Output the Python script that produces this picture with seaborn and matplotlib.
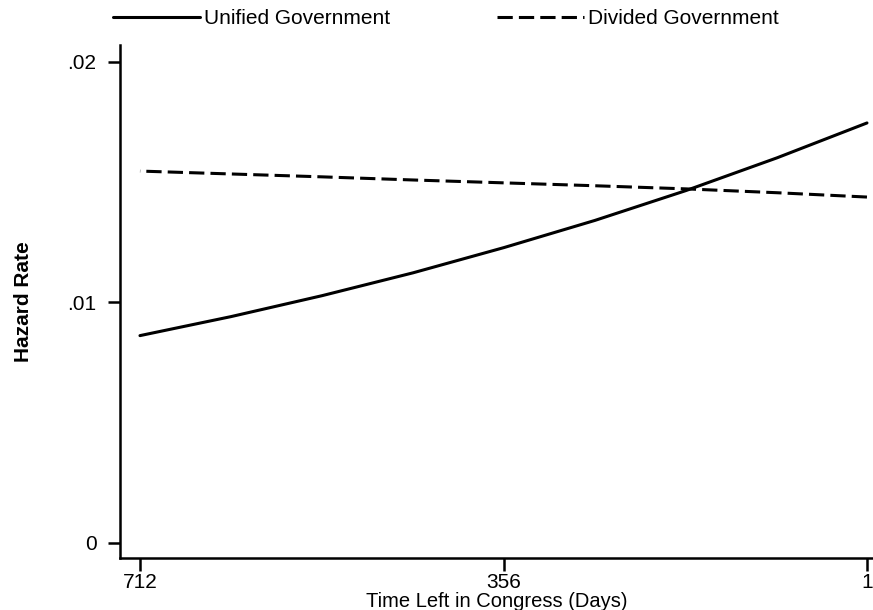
import pandas as pd
import matplotlib
matplotlib.use("Agg")
import matplotlib.pyplot as plt
import seaborn as sns
from matplotlib.ticker import FixedLocator, FixedFormatter

# Waarden
days = [712, 623, 534, 445, 356, 267, 178, 89, 1]
unified = [0.00862, 0.00941, 0.01028, 0.01123, 0.01228, 0.01341, 0.01465, 0.01601, 0.01746]
divided = [0.01546, 0.01534, 0.01522, 0.01509, 0.01497, 0.01485, 0.01472, 0.01456, 0.01438]

x_ticks = [712, 356, 1]
y_ticks = [0, 0.01, 0.02]
y_ticklabels = ["0", ".01", ".02"]

df = pd.DataFrame({
    "days": days * 2,
    "hazard": unified + divided,
    "government": ["Unified Government"] * len(days) + ["Divided Government"] * len(days),
})

sns.set_style("ticks")
plt.rcParams["font.family"] = ["Liberation Sans", "DejaVu Sans"]
plt.rcParams.update({"text.color": "black", "axes.labelcolor": "black",
                     "xtick.color": "black", "ytick.color": "black"})

fig = plt.figure(figsize=(8.73, 6.10), dpi=100)
ax = fig.add_axes([0.1375, 0.0852, 0.8625, 0.8410])

sns.lineplot(
    data=df, x="days", y="hazard", style="government",
    dashes={"Unified Government": "", "Divided Government": (5, 2)},
    color="black", linewidth=2.2, legend=False, ax=ax,
)

ax.set_xlim(731.5, -4.9)
ax.set_ylim(-0.000625, 0.0207)
ax.xaxis.set_major_locator(FixedLocator(x_ticks))
ax.yaxis.set_major_locator(FixedLocator(y_ticks))
ax.yaxis.set_major_formatter(FixedFormatter(y_ticklabels))

sns.despine(ax=ax)
for sp in ["left", "bottom"]:
    ax.spines[sp].set_linewidth(1.8)
    ax.spines[sp].set_color("black")
ax.tick_params(axis="both", length=9, width=1.8, labelsize=15, colors="black")
ax.tick_params(axis="y", pad=8)
ax.tick_params(axis="x", pad=2)

ax.set_xlabel("Time Left in Congress (Days)", fontsize=14.5, labelpad=0)
ax.set_ylabel("Hazard Rate", fontsize=15, fontweight="bold")
ax.yaxis.set_label_coords(-0.115, 0.5)

solid, dashed = ax.lines[0], ax.lines[1]
fig.legend([solid], ["Unified Government"], loc="center left",
           bbox_to_anchor=(0.129, 0.970), frameon=False, fontsize=15,
           handlelength=4.2, handletextpad=0.2, borderpad=0, borderaxespad=0)
fig.legend([dashed], ["Divided Government"], loc="center left",
           bbox_to_anchor=(0.569, 0.970), frameon=False, fontsize=15,
           handlelength=4.2, handletextpad=0.2, borderpad=0, borderaxespad=0)

fig.savefig("out.png", dpi=100)
